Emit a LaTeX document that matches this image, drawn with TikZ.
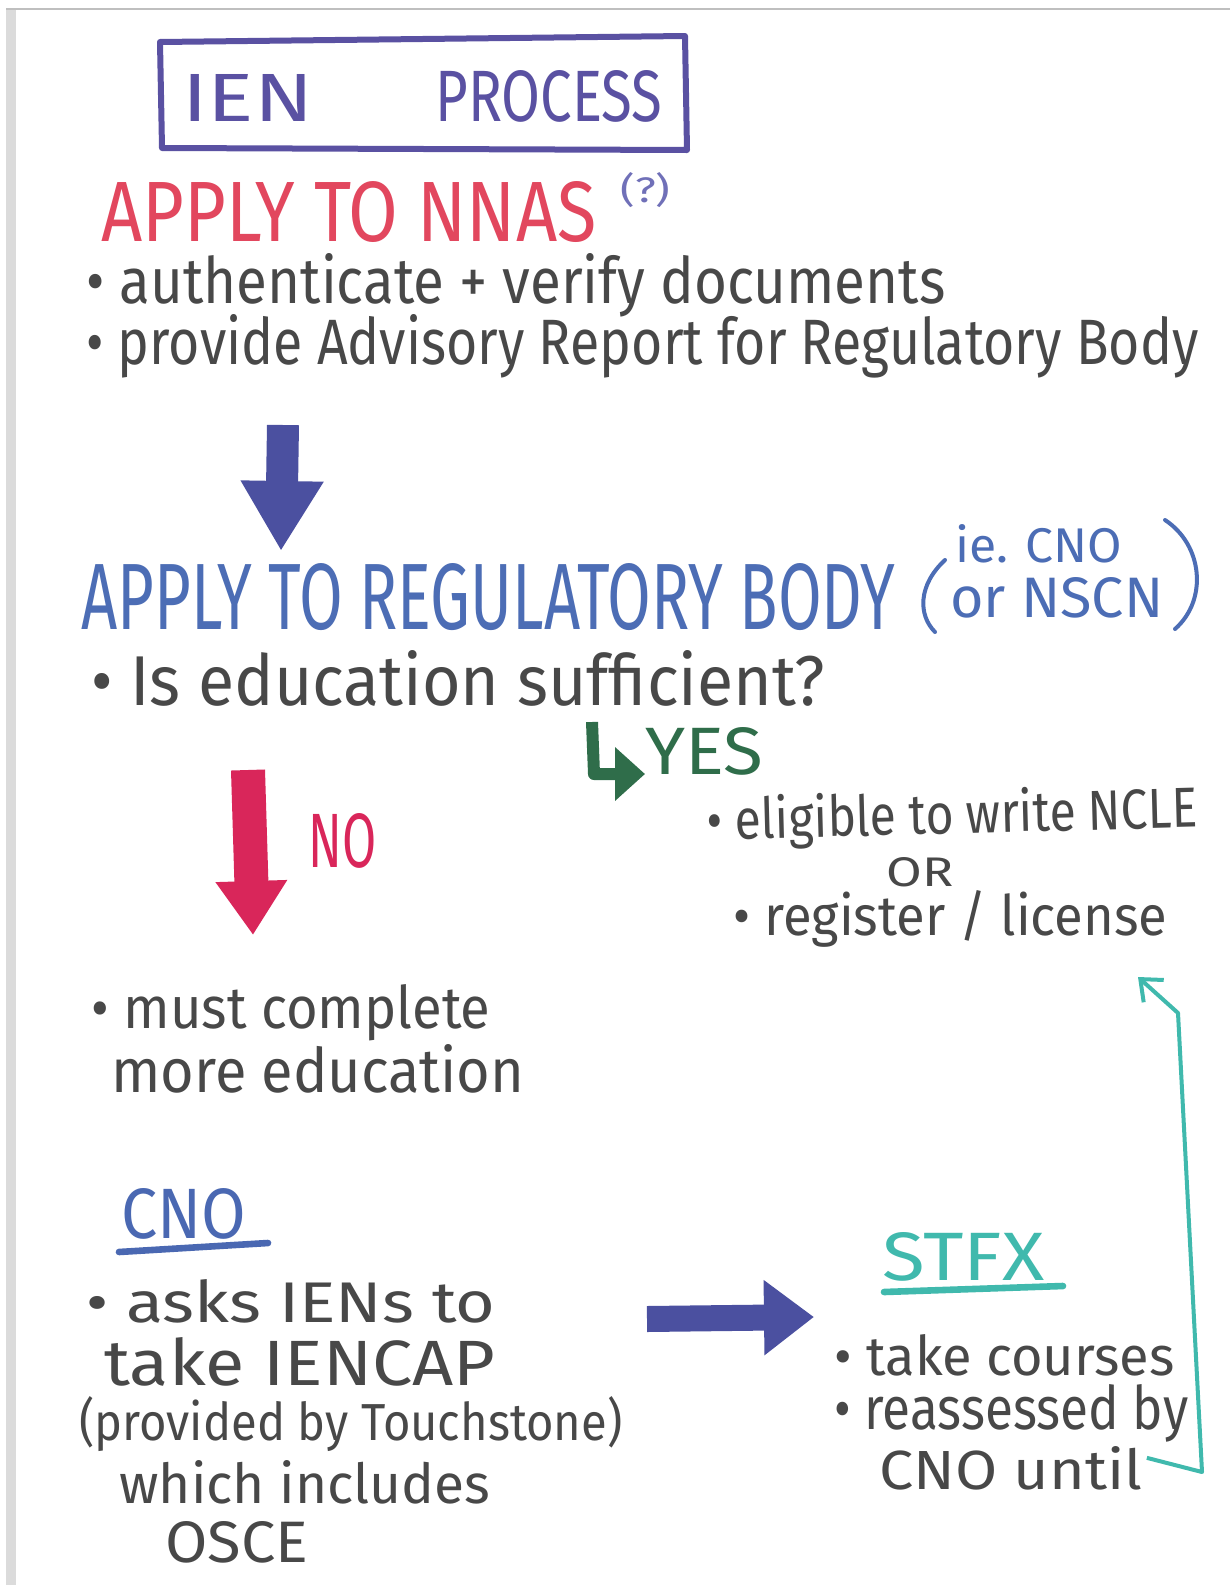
\documentclass[tikz,border=0pt]{standalone}
\usepackage{fontspec}
\setmainfont{Fira Sans}
\usepackage{graphicx}
\usetikzlibrary{arrows.meta}
\newlength\px \setlength\px{0.5pt}
\newcommand\fit[3]{\resizebox{#1\px}{#2\px}{#3}}
\definecolor{inkgray}{HTML}{484848}
\definecolor{inkpurple}{HTML}{5A51A2}
\definecolor{inkred}{HTML}{E2475E}
\definecolor{inkq}{HTML}{7070B8}
\definecolor{inkblue}{HTML}{4B50A0}
\definecolor{inkreg}{HTML}{4C6DB5}
\definecolor{inkgreen}{HTML}{2F6D4A}
\definecolor{inkno}{HTML}{D9265A}
\definecolor{inkcno}{HTML}{4A68B2}
\definecolor{inkteal}{HTML}{40B9AD}
\begin{document}
\begin{tikzpicture}[x=0.5pt,y=-0.5pt,
  txt/.style={inner sep=0pt, anchor=base west, text=inkgray},
  heading/.style={txt, text=#1},
  fatarrow/.style={draw=#1, line width=16pt, -{Triangle[length=35pt,width=39pt]}},
  noarrow/.style={draw=inkno, line width=17pt, -{Triangle[length=27pt,width=34pt]}},
  rightarrow/.style={draw=inkblue, line width=13pt, -{Triangle[length=25pt,width=36pt]}},
  yesarrow/.style={draw=inkgreen, line width=6pt, line join=round, -{Triangle[length=15pt,width=26pt]}},
  loop/.style={draw=inkteal, line width=2pt, line join=round, -{Straight Barb[length=9pt,width=15pt]}},
  uline/.style={draw=#1, line width=3.3pt, line cap=round}
]
\useasboundingbox (0,0) rectangle (1230,1585);
\fill[white] (0,0) rectangle (1230,1585);
\fill[black!14] (6,10) rectangle (16,1585);
\draw[black!25, line width=1.2pt] (6,9) -- (1230,9);

% title
\draw[inkpurple, line width=3pt, line join=round] (160,42) -- (685,36) -- (687,150) -- (162,148) -- cycle;
\node[heading=inkpurple] (ien) at (182,121) {\fit{131}{47}{IEN}};
\node[heading=inkpurple] (process) at (435,121) {\fit{227}{51}{PROCESS}};

% NNAS
\node[heading=inkred] (nnas) at (101,241) {\fit{495}{60}{APPLY TO NNAS}};
\node[heading=inkq] (q) at (620,202) {\fit{50}{30}{(?)}};
\node[txt] (auth) at (86,303) {\fit{859}{50}{• authenticate + verify documents}};
\node[txt] (report) at (86,364) {\fit{1112}{50}{• provide Advisory Report for Regulatory Body}};

\coordinate (a1s) at (283,425);
\coordinate (a1e) at (281,551);
\draw[fatarrow=inkblue] (a1s) -- (a1e);

% regulatory body
\node[heading=inkreg] (reg) at (81,629) {\fit{814}{66}{APPLY TO REGULATORY BODY}};
\node[heading=inkreg] (iecno) at (955,562) {\fit{167}{38}{ie. CNO}};
\node[heading=inkreg] (nscn) at (950,617) {\fit{213}{40}{or NSCN}};
\draw[inkreg, line width=2pt, line cap=round] (945,560) .. controls (918,585) and (918,615) .. (935,632);
\draw[inkreg, line width=2pt, line cap=round] (1165,520) .. controls (1203,545) and (1208,600) .. (1175,629);
\node[txt] (question) at (91,705) {\fit{733}{55}{• Is education sufficient?}};

% yes
\node[heading=inkgreen] (yes) at (645,774) {\fit{118}{47}{YES}};
\coordinate (ys) at (592,722);
\draw[yesarrow] (ys) -- (594,774) -- (yes.base west);
\node[txt, rotate=1.5] (elig) at (707,840) {\fit{491}{44}{• eligible to write NCLE}};
\node[txt] (or) at (886,886) {\fit{67}{29}{OR}};
\node[txt] (register) at (733,935) {\fit{434}{45}{• register / license}};

% no
\coordinate (ns) at (248,770);
\coordinate (ne) at (253,935);
\draw[noarrow] (ns) -- (ne);
\node[heading=inkno] (no) at (308,867) {\fit{68}{54}{NO}};
\node[txt] (must) at (91,1028) {\fit{399}{44}{• must complete}};
\node[txt] (more) at (111,1092) {\fit{413}{48}{more education}};

% CNO
\node[heading=inkcno] (cno) at (121,1238) {\fit{125}{50}{CNO}};
\draw[uline=inkcno] (119,1252) -- (268,1243);
\node[txt] (asks) at (86,1322) {\fit{409}{43}{• asks IENs to}};
\node[txt] (take) at (104,1385) {\fit{391}{48}{take IENCAP}};
\node[txt] (provided) at (79,1440) {\fit{543}{44}{(provided by Touchstone)}};
\node[txt] (which) at (119,1503) {\fit{371}{43}{which includes}};
\node[txt] (osce) at (165,1562) {\fit{143}{41}{OSCE}};

\coordinate (rs) at (647,1319);
\coordinate (re) at (814,1317);
\draw[rightarrow] (rs) -- (re);

% STFX
\node[heading=inkteal] (stfx) at (882,1280) {\fit{162}{48}{STFX}};
\draw[uline=inkteal] (884,1292) -- (1063,1286);
\node[txt] (courses) at (834,1375) {\fit{340}{41}{• take courses}};
\node[txt] (reass) at (834,1429) {\fit{354}{45}{• reassessed by}};
\node[txt] (until) at (879,1489) {\fit{263}{43}{CNO until}};

\coordinate (loopend) at (1138,977);
\draw[loop] ([xshift=2pt,yshift=5pt]until.east) -- (1202,1472) -- (1178,1013) -- (loopend);
\end{tikzpicture}
\end{document}
